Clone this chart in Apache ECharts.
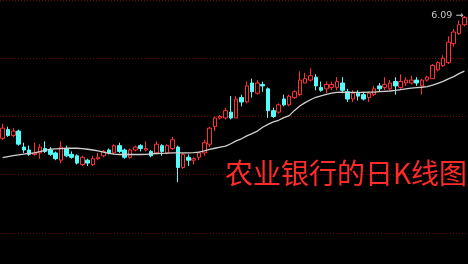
<!DOCTYPE html>
<html><head><meta charset="utf-8">
<script src="https://cdn.jsdelivr.net/npm/echarts@6/dist/echarts.min.js"></script>
<style>html,body{margin:0;padding:0;background:#000;}#c{width:468px;height:264px;}</style>
</head><body><div id="c"></div>
<script>
// trading days (index only; dates not shown)
const days = Array.from({length: 88}, (_, i) => 'D' + (i + 1));
// [open, close, low, high]
const opens  = [5.25,5.31,5.27,5.30,5.19,5.17,5.14,5.15,5.18,5.17,5.15,5.10,5.18,5.14,5.13,5.07,5.10,5.07,5.11,5.13,5.17,5.15,5.20,5.17,5.12,5.17,5.20,5.17,5.16,5.15,5.20,5.15,5.18,5.19,5.05,5.12,5.10,5.12,5.15,5.21,5.33,5.39,5.39,5.43,5.39,5.53,5.50,5.63,5.56,5.62,5.59,5.44,5.43,5.52,5.48,5.53,5.55,5.63,5.65,5.67,5.60,5.59,5.60,5.60,5.63,5.57,5.52,5.56,5.55,5.53,5.55,5.61,5.60,5.59,5.64,5.60,5.63,5.63,5.65,5.61,5.65,5.66,5.72,5.75,5.77,5.90,5.97,6.03];
const closes = [5.32,5.27,5.30,5.21,5.17,5.14,5.15,5.19,5.16,5.14,5.11,5.19,5.13,5.12,5.08,5.12,5.08,5.11,5.12,5.16,5.15,5.20,5.16,5.12,5.17,5.19,5.18,5.18,5.13,5.21,5.16,5.20,5.24,5.05,5.14,5.10,5.11,5.15,5.22,5.32,5.39,5.40,5.44,5.39,5.52,5.50,5.61,5.57,5.63,5.61,5.44,5.40,5.48,5.48,5.54,5.57,5.65,5.66,5.68,5.61,5.58,5.62,5.62,5.64,5.58,5.52,5.56,5.54,5.52,5.56,5.59,5.59,5.62,5.63,5.61,5.64,5.65,5.65,5.63,5.65,5.67,5.75,5.77,5.80,5.91,5.98,6.03,6.08];
const lows   = [5.24,5.26,5.26,5.20,5.15,5.13,5.13,5.11,5.15,5.13,5.10,5.08,5.12,5.11,5.07,5.06,5.06,5.06,5.10,5.12,5.14,5.14,5.15,5.11,5.11,5.16,5.16,5.16,5.12,5.14,5.13,5.14,5.17,4.95,5.04,5.06,5.07,5.10,5.13,5.19,5.30,5.38,5.38,5.38,5.39,5.47,5.49,5.53,5.55,5.57,5.39,5.39,5.42,5.47,5.47,5.52,5.54,5.63,5.64,5.58,5.57,5.56,5.58,5.58,5.56,5.50,5.50,5.51,5.51,5.50,5.54,5.57,5.58,5.58,5.55,5.59,5.61,5.62,5.61,5.55,5.64,5.66,5.71,5.74,5.76,5.88,5.96,6.02];
const highs  = [5.35,5.33,5.32,5.31,5.22,5.20,5.22,5.21,5.23,5.19,5.16,5.23,5.20,5.16,5.14,5.13,5.11,5.13,5.15,5.17,5.18,5.21,5.22,5.18,5.18,5.20,5.21,5.23,5.17,5.23,5.21,5.21,5.26,5.20,5.15,5.14,5.12,5.16,5.24,5.33,5.40,5.41,5.46,5.54,5.54,5.55,5.64,5.66,5.65,5.64,5.60,5.46,5.49,5.55,5.55,5.58,5.71,5.70,5.73,5.69,5.64,5.64,5.64,5.67,5.67,5.59,5.58,5.58,5.57,5.57,5.61,5.63,5.67,5.65,5.67,5.69,5.67,5.68,5.67,5.66,5.68,5.76,5.78,5.82,5.95,6.00,6.06,6.09];
// moving average line
const ma = [5.117,5.124,5.131,5.137,5.142,5.147,5.150,5.159,5.168,5.176,5.178,5.180,5.182,5.182,5.182,5.180,5.175,5.170,5.164,5.155,5.147,5.142,5.139,5.139,5.139,5.139,5.139,5.140,5.144,5.146,5.147,5.148,5.150,5.150,5.150,5.150,5.152,5.155,5.164,5.174,5.182,5.190,5.197,5.213,5.233,5.247,5.267,5.283,5.300,5.326,5.346,5.363,5.374,5.392,5.406,5.442,5.472,5.495,5.515,5.532,5.542,5.552,5.560,5.566,5.568,5.566,5.565,5.565,5.566,5.567,5.568,5.571,5.573,5.575,5.579,5.585,5.590,5.595,5.598,5.601,5.605,5.615,5.628,5.641,5.658,5.674,5.694,5.711];
const yTicks = {min: 4.6, max: 6.2, interval: 0.4};
const titleText = '农业银行的日K线图';
const peakLabel = '6.09';

const kData = days.map((d, i) => [opens[i], closes[i], lows[i], highs[i]]);

const chart = echarts.init(document.getElementById('c'), null, {renderer: 'canvas'});
chart.setOption({
  backgroundColor: '#000',
  animation: false,
  title: {
    text: titleText, left: 220, top: 154,
    textStyle: {color: '#ff2a2a', fontSize: 28, fontWeight: 'normal', fontFamily: 'Noto Sans CJK SC'}
  },
  grid: {left: -1, right: 1, top: -8.33, bottom: 31},
  xAxis: {type: 'category', data: days, show: false, boundaryGap: true},
  yAxis: {
    type: 'value', min: yTicks.min, max: yTicks.max, interval: yTicks.interval,
    axisLine: {show: false}, axisTick: {show: false}, axisLabel: {show: false},
    splitLine: {show: true, lineStyle: {color: '#6e0808', width: 1, type: [1, 2]}}
  },
  series: [
    {
      type: 'candlestick', data: kData, barWidth: 4,
      itemStyle: {color: '#000', color0: '#54fcfc', borderColor: '#ff3232', borderColor0: '#54fcfc', borderWidth: 1},
      markPoint: {
        symbol: 'circle', symbolSize: 0,
        data: [{coord: [87, 6.09], value: 6.09}],
        label: {show: true, position: 'left', distance: 1, color: '#c8c8c8', fontSize: 9.5,
          fontFamily: 'DejaVu Sans', formatter: () => peakLabel + ' →'}
      }
    },
    {
      type: 'line', data: ma, showSymbol: false, smooth: false,
      lineStyle: {color: '#d0d0d0', width: 1.3}, z: 3
    }
  ]
});
</script></body></html>
